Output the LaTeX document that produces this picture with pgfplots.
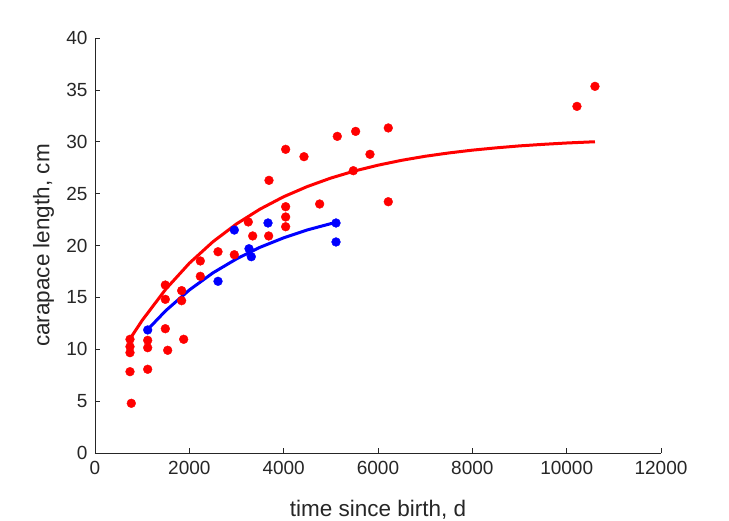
\documentclass[border=0pt]{standalone}
\usepackage{pgfplots}
\pgfplotsset{compat=1.18}
\usepackage{fontspec}
\setmainfont{Liberation Sans}
\definecolor{axgray}{rgb}{0.15,0.15,0.15}
\begin{document}
\begin{tikzpicture}
\path[use as bounding box] (-95bp,-68bp) rectangle (634bp,453bp);
\begin{axis}[
  at={(0,0)}, anchor=south west,
  scale only axis, width=566bp, height=415bp,
  xmin=0, xmax=12000, ymin=0, ymax=40,
  axis x line*=bottom, axis y line*=left,
  axis line style={axgray, line width=0.6pt},
  xtick={0,2000,...,12000}, ytick={0,5,...,40},
  scaled x ticks=false,
  /pgf/number format/1000 sep={},
  /pgf/number format/fixed,
  /pgf/number format/assume math mode=true,
  tick align=inside, major tick length=5bp,
  tick style={axgray, line width=0.6pt},
  ticklabel style={font=\fontsize{19bp}{22bp}\selectfont, text=axgray},
  xticklabel style={yshift=-5bp},
  yticklabel style={xshift=-4bp},
  xlabel={time since birth, d}, ylabel={carapace length, cm},
  label style={font=\fontsize{22.5bp}{26bp}\selectfont, text=axgray},
  xlabel style={at={(axis description cs:0.5,-0.152)}, anchor=base},
  ylabel style={at={(axis description cs:-0.0805,0.5)}, anchor=base},
  clip=false,
]
% red fitted curve
\addplot[red, line width=3bp, no marks] coordinates {
(742,11.0) (1000,12.78) (1500,15.79) (2000,18.29) (2500,20.36) (3000,22.08)
(3500,23.51) (4000,24.70) (4500,25.68) (5000,26.50) (5500,27.18) (6000,27.74)
(6500,28.21) (7000,28.60) (7500,28.92) (8000,29.19) (8500,29.41) (9000,29.60)
(9500,29.75) (10000,29.88) (10600,30.0)
};
% blue fitted curve
\addplot[blue, line width=3bp, no marks] coordinates {
(1117,11.9) (1500,13.72) (2000,15.71) (2500,17.36) (3000,18.71) (3500,19.83)
(4000,20.74) (4500,21.50) (5110,22.24)
};
% red data
\addplot[only marks, mark=*, mark size=4.4bp, color=red, mark options={draw=red, fill=red}] coordinates {
(742,10.96) (742,10.25) (742,9.67) (742,7.84) (770,4.79)
(1117,10.86) (1117,10.15) (1117,8.07)
(1491,16.19) (1491,14.81) (1491,11.98) (1541,9.90)
(1837,15.65) (1837,14.68) (1880,10.96)
(2233,18.51) (2233,17.03) (2608,19.40) (2954,19.11)
(3250,22.27) (3343,20.92) (3682,20.92)
(4042,23.74) (4042,22.75) (4042,21.81) (4763,24.0)
(3689,26.28) (4042,29.27) (4431,28.56) (5137,30.52) (5526,31.0)
(5830,28.79) (5477,27.21) (6218,31.33) (6218,24.22)
(10218,33.41) (10600,35.34)
};
% blue data
\addplot[only marks, mark=*, mark size=4.4bp, color=blue, mark options={draw=blue, fill=blue}] coordinates {
(1117,11.86) (2954,21.49) (3668,22.17) (2608,16.55) (3265,19.69)
(3314,18.92) (5110,22.17) (5110,20.34)
};
\end{axis}
\end{tikzpicture}
\end{document}
